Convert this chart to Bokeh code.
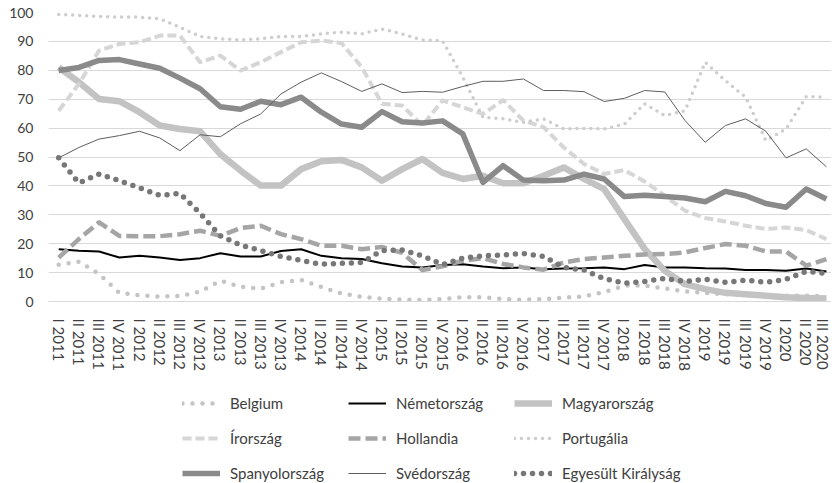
from bokeh.plotting import figure
from bokeh.layouts import column
from bokeh.models import FixedTicker, Legend, LegendItem, Range1d
from bokeh.embed import file_html
from bokeh.resources import INLINE

quarters = [
    "I 2011", "II 2011", "III 2011", "IV 2011",
    "I 2012", "II 2012", "III 2012", "IV 2012",
    "I 2013", "II 2013", "III 2013", "IV 2013",
    "I 2014", "II 2014", "III 2014", "IV 2014",
    "I 2015", "II 2015", "III 2015", "IV 2015",
    "I 2016", "II 2016", "III 2016", "IV 2016",
    "I 2017", "II 2017", "III 2017", "IV 2017",
    "I 2018", "II 2018", "III 2018", "IV 2018",
    "I 2019", "II 2019", "III 2019", "IV 2019",
    "I 2020", "II 2020", "III 2020",
]

belgium = [12.7, 13.8, 9.5, 3.0, 2.2, 1.7, 1.9, 3.4, 7.2, 5.1, 4.4, 6.7, 7.4, 5.0, 2.8, 1.6,
           1.0, 0.6, 0.5, 0.8, 1.5, 1.5, 0.8, 0.6, 0.8, 1.3, 1.8, 3.3, 5.5, 5.5, 4.5, 3.5,
           3.0, 2.5, 2.2, 2.0, 2.0, 2.0, 1.8]
nemetorszag = [18.1, 17.6, 17.3, 15.2, 15.8, 15.2, 14.4, 15.0, 16.7, 15.6, 15.6, 17.5, 18.1, 15.8, 15.0, 14.7,
               13.2, 12.1, 11.8, 12.6, 12.9, 12.1, 11.5, 11.8, 11.2, 11.4, 11.5, 11.8, 11.2, 12.6, 11.8, 11.8,
               11.5, 11.4, 10.9, 10.9, 10.6, 11.4, 10.4]
magyarorszag = [81.0, 75.9, 70.1, 69.3, 65.5, 60.9, 59.7, 58.9, 51.0, 45.3, 40.1, 40.1, 45.8, 48.5, 49.0, 46.4,
                41.8, 45.8, 49.3, 44.5, 42.4, 43.5, 40.9, 40.9, 43.5, 46.4, 42.4, 38.9, 28.5, 18.2, 10.6, 6.0,
                4.3, 3.0, 2.5, 2.0, 1.5, 1.2, 1.0]
irorszag = [66.0, 75.3, 86.8, 89.1, 89.7, 92.0, 92.0, 82.8, 85.1, 79.9, 82.8, 86.3, 89.7, 90.3, 89.4, 81.1,
            68.4, 67.8, 60.9, 69.6, 67.2, 64.9, 69.7, 62.6, 60.3, 53.3, 47.6, 44.1, 45.5, 41.5, 36.6, 31.4,
            28.9, 27.7, 26.2, 25.1, 25.6, 24.7, 21.6]
hollandia = [15.2, 21.6, 27.4, 22.7, 22.6, 22.6, 23.3, 24.5, 22.7, 25.4, 26.2, 23.3, 21.6, 19.3, 19.3, 18.1,
             18.9, 16.8, 10.9, 12.2, 14.1, 15.0, 13.0, 11.8, 11.0, 13.5, 14.7, 15.2, 15.8, 16.3, 16.4, 17.0,
             18.5, 19.9, 19.3, 17.3, 17.3, 12.4, 14.7]
portugalia = [99.3, 99.0, 98.6, 98.4, 98.4, 97.8, 94.9, 91.7, 90.9, 90.5, 90.9, 91.7, 91.7, 92.6, 93.2, 92.6,
              94.3, 92.6, 90.5, 90.2, 77.6, 63.7, 63.2, 62.0, 63.2, 59.7, 59.9, 59.7, 61.4, 68.4, 64.3, 66.0,
              82.8, 76.4, 70.7, 55.7, 59.7, 70.9, 70.7]
spanyolorszag = [79.9, 81.0, 83.4, 83.7, 82.2, 80.7, 77.3, 73.6, 67.4, 66.5, 69.3, 68.1, 70.7, 65.5, 61.4, 60.3,
                 65.7, 62.2, 61.8, 62.5, 58.0, 41.2, 47.0, 42.0, 41.8, 42.0, 44.1, 42.4, 36.3, 36.8, 36.3, 35.8,
                 34.5, 38.1, 36.6, 33.9, 32.6, 38.9, 35.5]
svedorszag = [49.7, 53.3, 56.2, 57.4, 58.9, 56.6, 52.2, 57.7, 57.0, 61.5, 64.9, 71.8, 75.9, 79.1, 76.1, 72.7,
              75.3, 72.3, 72.7, 72.4, 74.4, 76.2, 76.2, 77.0, 73.0, 73.0, 72.6, 69.2, 70.3, 73.0, 72.5, 62.6,
              55.1, 60.9, 63.2, 58.9, 49.7, 52.8, 46.6]
egyesult_kiralysag = [49.7, 41.0, 44.1, 41.8, 39.3, 36.7, 37.4, 30.5, 22.7, 19.5, 17.6, 15.6, 14.2, 12.9, 13.2, 13.5,
                      17.6, 17.8, 15.8, 12.8, 15.0, 15.8, 16.1, 16.6, 15.6, 11.8, 10.9, 7.9, 6.3, 6.9, 8.0, 6.9,
                      7.7, 6.6, 7.4, 6.6, 7.7, 10.4, 9.7]

series_names = ["Belgium", "Németország", "Magyarország", "Írország", "Hollandia",
                "Portugália", "Spanyolország", "Svédország", "Egyesült Királyság"]
series_values = [belgium, nemetorszag, magyarorszag, irorszag, hollandia,
                 portugalia, spanyolorszag, svedorszag, egyesult_kiralysag]
y_ticks = list(range(0, 101, 10))

styles = [
    dict(line_color="#c4c4c4", line_width=4.5, line_dash="0 10", line_cap="round"),
    dict(line_color="#000000", line_width=2),
    dict(line_color="#c3c3c3", line_width=6.5),
    dict(line_color="#d6d6d6", line_width=4, line_dash="9 4"),
    dict(line_color="#a5a5a5", line_width=4.5, line_dash="12 5"),
    dict(line_color="#cdcdcd", line_width=3.5, line_dash="0 7", line_cap="round"),
    dict(line_color="#8a8a8a", line_width=5.5),
    dict(line_color="#5e5e5e", line_width=1),
    dict(line_color="#777777", line_width=5.5, line_dash="0 9", line_cap="round"),
]

x_idx = list(range(len(quarters)))

# main chart
p = figure(width=831, height=380, output_backend="svg", toolbar_location=None,
           x_range=Range1d(-0.505, 38.25), y_range=Range1d(0, 100),
           min_border_left=40, min_border_right=0, min_border_top=12, min_border_bottom=79)
p.outline_line_color = None
p.xgrid.visible = False
p.ygrid.grid_line_color = "#d9d9d9"
p.ygrid.grid_line_width = 1

p.yaxis.ticker = FixedTicker(ticks=y_ticks)
p.yaxis.axis_line_color = None
p.yaxis.major_tick_line_color = None
p.yaxis.minor_tick_line_color = None
p.yaxis.major_tick_out = 0
p.yaxis.major_tick_in = 0
p.yaxis.major_label_standoff = 15
p.yaxis.major_label_text_font = "Lato"
p.yaxis.major_label_text_font_size = "14px"
p.yaxis.major_label_text_color = "#404040"

p.xaxis.ticker = FixedTicker(ticks=x_idx)
p.xaxis.major_label_overrides = {i: q for i, q in enumerate(quarters)}
p.xaxis.major_label_orientation = "vertical"
p.xaxis.axis_line_color = "#d9d9d9"
p.xaxis.major_tick_line_color = None
p.xaxis.minor_tick_line_color = None
p.xaxis.major_tick_out = 0
p.xaxis.major_tick_in = 0
p.xaxis.major_label_standoff = 17
p.xaxis.major_label_text_font = "Lato"
p.xaxis.major_label_text_font_size = "15px"
p.xaxis.major_label_text_color = "#404040"

for vals, st in zip(series_values, styles):
    p.line(x_idx, vals, line_join="round", **st)

# legend strip: same series drawn outside its visible range, only the keys show
p2 = figure(width=831, height=103, output_backend="svg", toolbar_location=None,
            x_range=Range1d(1000, 1001), y_range=Range1d(0, 100),
            min_border_left=48, min_border_right=0, min_border_top=0, min_border_bottom=0)
p2.outline_line_color = None
p2.axis.visible = False
p2.grid.visible = False

items = []
for name, vals, st in zip(series_names, series_values, styles):
    r = p2.line(x_idx, vals, line_join="round", **st)
    items.append(LegendItem(label=name, renderers=[r]))

legend = Legend(items=items, location=(134, 1), orientation="horizontal", ncols=3,
                glyph_width=38, glyph_height=18, label_height=18, label_width=101,
                label_standoff=10, spacing=17, padding=0, margin=0,
                border_line_color=None, background_fill_alpha=0,
                label_text_font="Lato", label_text_font_size="15px",
                label_text_color="#404040")
p2.add_layout(legend, "center")

open("out.html", "w").write(file_html(column(p, p2, spacing=0), INLINE))
